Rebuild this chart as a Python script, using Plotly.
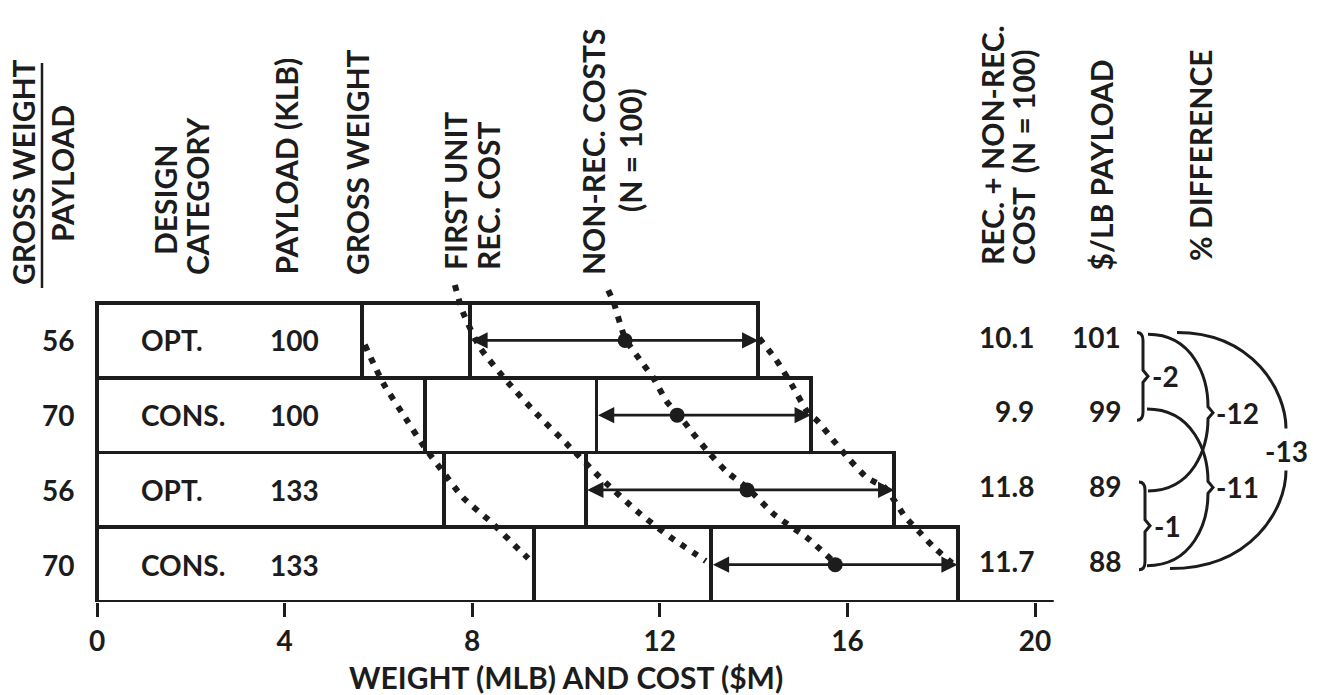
import plotly.graph_objects as go

# ---------------- data ----------------
gw_over_payload = [56, 70, 56, 70]
design_category = ["OPT.", "CONS.", "OPT.", "CONS."]
payload_klb = [100, 100, 133, 133]
gross_weight = [5.65, 7.0, 7.4, 9.32]          # MLB
first_unit_end = [7.95, 10.65, 10.42, 13.1]    # end of first-unit rec. cost segment
total_end = [14.1, 15.22, 17.0, 18.35]         # end of non-rec. cost segment
nonrec_mark = [11.26, 12.37, 13.86, 15.74]     # dot on the arrow
rec_nonrec_cost = ["10.1", "9.9", "11.8", "11.7"]
per_lb_payload = [101, 99, 89, 88]
pct_pairs = [(0, 1), (0, 2), (0, 3), (1, 3), (2, 3)]
x_ticks = [0, 4, 8, 12, 16, 20]
row_pos = [3.5, 2.5, 1.5, 0.5]

# dotted trend curves (x value, row-unit height)
gw_curve_x = [5.71, 6.10, 6.63, 6.95, 7.38, 7.80, 8.40, 9.00, 9.30]
gw_curve_y = [3.44, 2.93, 2.41, 2.10, 1.74, 1.40, 1.07, 0.70, 0.52]
fu_curve_x = [7.63, 7.80, 8.17, 8.76, 9.40, 10.04, 10.72, 11.56, 12.22, 12.98]
fu_curve_y = [4.24, 3.88, 3.40, 2.94, 2.50, 2.10, 1.67, 1.19, 0.87, 0.55]
nr_curve_x = [10.90, 11.02, 11.26, 11.66, 11.86, 12.15, 12.37, 12.69, 13.03, 13.43, 13.86, 14.46, 15.14, 15.74]
nr_curve_y = [4.17, 4.00, 3.53, 3.17, 3.00, 2.68, 2.53, 2.27, 2.01, 1.74, 1.53, 1.16, 0.86, 0.52]
tot_curve_x = [14.12, 14.48, 14.82, 15.16, 15.35, 15.69, 16.01, 16.42, 16.80, 17.23, 17.53, 17.83, 18.23]
tot_curve_y = [3.53, 3.24, 2.90, 2.53, 2.43, 2.17, 1.93, 1.66, 1.53, 1.14, 0.94, 0.74, 0.52]

# ---------------- layout helpers ----------------
W, H = 1323, 695
PX0, SX = 97.0, 46.9      # pixel of x=0, pixels per unit
PY0, SY = 602.0, 74.75    # pixel of y=0, pixels per row unit
INK = "#1c1c1c"
FONT = "Lato"


def dx(p):
    return (p - PX0) / SX


def dy(p):
    return (PY0 - p) / SY


def px(x):
    return PX0 + x * SX


def py(y):
    return PY0 - y * SY


fig = go.Figure()

# stacked boxes
segments = [
    gross_weight,
    [f - g for f, g in zip(first_unit_end, gross_weight)],
    [t - f for t, f in zip(total_end, first_unit_end)],
]
for seg in segments:
    fig.add_trace(go.Bar(
        y=row_pos, x=seg, orientation="h", width=1,
        marker=dict(color="white", line=dict(color=INK, width=3.8)),
        showlegend=False, hoverinfo="skip"))

# dotted curves
for cx, cy in [(gw_curve_x, gw_curve_y), (fu_curve_x, fu_curve_y),
               (nr_curve_x, nr_curve_y), (tot_curve_x, tot_curve_y)]:
    fig.add_trace(go.Scatter(
        x=cx, y=cy, mode="lines", cliponaxis=False,
        line=dict(color=INK, width=6, dash="6px,8px", shape="spline", smoothing=0.6),
        showlegend=False, hoverinfo="skip"))

# non-recurring cost dots
fig.add_trace(go.Scatter(
    x=nonrec_mark, y=row_pos, mode="markers",
    marker=dict(size=15, color=INK), showlegend=False, hoverinfo="skip"))

ann = []
shapes = []

# double arrows
for i in range(4):
    ann.append(dict(
        x=total_end[i], y=row_pos[i], ax=first_unit_end[i], ay=row_pos[i],
        xref="x", yref="y", axref="x", ayref="y", text="", showarrow=True,
        arrowhead=2, startarrowhead=2, arrowside="end+start",
        arrowsize=1.25, startarrowsize=1.25, arrowwidth=2.6, arrowcolor=INK))

# row texts
row_font = dict(family=FONT, size=28, color=INK, weight=700)
for i in range(4):
    y = row_pos[i]
    ann.append(dict(x=dx(58), y=y, text=str(gw_over_payload[i]), showarrow=False,
                    xanchor="center", yanchor="middle", font=row_font))
    ann.append(dict(x=dx(139), y=y, text=design_category[i], showarrow=False,
                    xanchor="left", yanchor="middle", font=row_font))
    ann.append(dict(x=dx(268), y=y, text=str(payload_klb[i]), showarrow=False,
                    xanchor="left", yanchor="middle", font=row_font))
    ann.append(dict(x=dx(1036), y=y + 0.05, text=rec_nonrec_cost[i], showarrow=False,
                    xanchor="right", yanchor="middle", font=row_font))
    ann.append(dict(x=dx(1123), y=y + 0.05, text=str(per_lb_payload[i]), showarrow=False,
                    xanchor="right", yanchor="middle", font=row_font))

# column headers (rotated)
hdr_font = dict(family=FONT, size=30, color=INK, weight=700)
headers = [
    ("GROSS WEIGHT", 23, 287, "bottom"),
    ("PAYLOAD", 62, 174, "middle"),
    ("DESIGN", 165, 200, "middle"),
    ("CATEGORY", 197, 196, "middle"),
    ("PAYLOAD (KLB)", 285, 277, "bottom"),
    ("GROSS WEIGHT", 357, 277, "bottom"),
    ("FIRST UNIT", 455, 272, "bottom"),
    ("REC. COST", 488, 272, "bottom"),
    ("NON-REC. COSTS", 593, 277, "bottom"),
    ("(N = 100)", 630, 150, "middle"),
    ("REC. + NON-REC.", 992, 267, "bottom"),
    ("COST  (N = 100)", 1023, 267, "bottom"),
    ("$/LB PAYLOAD", 1100, 273, "bottom"),
    ("% DIFFERENCE", 1200, 263, "bottom"),
]
for text, hx, hy, ya in headers:
    ann.append(dict(x=dx(hx), y=dy(hy), text=text, textangle=-90, showarrow=False,
                    xanchor="center", yanchor=ya, font=hdr_font))
# fraction bar between GROSS WEIGHT / PAYLOAD
shapes.append(dict(type="line", xref="x", yref="y", x0=dx(42), x1=dx(42),
                   y0=dy(288), y1=dy(63), line=dict(color=INK, width=2.5)))

# axis title (paper reference so it is drawn below the plot area)
ann.append(dict(x=10, xref="x", y=(PY0 - 677) / PY0, yref="paper",
                text="WEIGHT (MLB) AND COST ($M)", showarrow=False,
                xanchor="center", yanchor="middle",
                font=dict(family=FONT, size=30, color=INK, weight=700)))

# axis base line
shapes.append(dict(type="line", xref="x", yref="y", x0=0, x1=x_ticks[-1] + 0.4,
                   y0=0, y1=0, line=dict(color=INK, width=4)))


# brackets and arcs for % difference
def P(xp, yp):
    return f"{dx(xp):.4f},{dy(yp):.4f}"


pct = {(a, b): round((per_lb_payload[b] - per_lb_payload[a]) / per_lb_payload[a] * 100)
       for a, b in pct_pairs}
diff_font = dict(family=FONT, size=28, color=INK, weight=700)


def brace(a, b, x0):
    yt, yb = py(row_pos[a]) - 8, py(row_pos[b]) + 5
    ym = (yt + yb) / 2
    path = (f"M{P(x0, yt)} Q{P(x0 + 6, yt)} {P(x0 + 6, yt + 8)} L{P(x0 + 6, ym - 6)} "
            f"L{P(x0 + 11, ym)} L{P(x0 + 6, ym + 6)} L{P(x0 + 6, yb - 8)} "
            f"Q{P(x0 + 6, yb)} {P(x0, yb)}")
    shapes.append(dict(type="path", xref="x", yref="y", path=path,
                       line=dict(color=INK, width=3)))
    ann.append(dict(x=dx(x0 + 13), y=dy(ym), text=f"{pct[(a, b)]}", showarrow=False,
                    xanchor="left", yanchor="middle", font=diff_font))


def cusp_arc(a, b, xs, xc):
    yt, yb = py(row_pos[a]) - 6, py(row_pos[b]) + 1
    ym = (yt + yb) / 2
    r = xc - xs
    path = (f"M{P(xs, yt)} C{P(xs + 0.75 * r, yt)} {P(xc, ym - 0.45 * (ym - yt))} {P(xc, ym - 6)} "
            f"L{P(xc + 5, ym)} L{P(xc, ym + 6)} "
            f"C{P(xc, ym + 0.45 * (yb - ym))} {P(xs + 0.75 * r, yb)} {P(xs, yb)}")
    shapes.append(dict(type="path", xref="x", yref="y", path=path,
                       line=dict(color=INK, width=3)))
    ann.append(dict(x=dx(xc + 6), y=dy(ym), text=f"{pct[(a, b)]}", showarrow=False,
                    xanchor="left", yanchor="middle", font=diff_font))


def gap_arc(a, b, xs, xe, xc):
    yt, yb = py(row_pos[a]) - 8, py(row_pos[b]) + 4
    ym = (yt + yb) / 2
    r = xc - xs
    top = (f"M{P(xs, yt)} C{P(xs + 0.7 * r, yt)} {P(xc, ym - 0.5 * (ym - yt))} {P(xc, ym - 22)}")
    bot = (f"M{P(xc, ym + 20)} C{P(xc, ym + 0.5 * (yb - ym))} {P(xe + 0.7 * (xc - xe), yb)} {P(xe, yb)}")
    for pth in (top, bot):
        shapes.append(dict(type="path", xref="x", yref="y", path=pth,
                           line=dict(color=INK, width=3)))
    ann.append(dict(x=dx(xc), y=dy(ym), text=f"{pct[(a, b)]}", showarrow=False,
                    xanchor="center", yanchor="middle", font=diff_font))


brace(0, 1, 1137)
brace(2, 3, 1139)
cusp_arc(0, 2, 1148, 1208)
cusp_arc(1, 3, 1147, 1208)
gap_arc(0, 3, 1177, 1170, 1286)

fig.update_layout(
    width=W, height=H,
    margin=dict(l=0, r=0, t=0, b=H - PY0, pad=0),
    paper_bgcolor="white", plot_bgcolor="white",
    barmode="stack", showlegend=False,
    annotations=ann, shapes=shapes,
    xaxis=dict(range=[dx(0), dx(W)], tickvals=x_ticks, ticktext=[str(t) for t in x_ticks],
               ticks="outside", ticklen=14, tickwidth=3, tickcolor=INK,
               showgrid=False, zeroline=False, showline=False,
               tickfont=dict(family=FONT, size=28, color=INK, weight=700)),
    yaxis=dict(range=[0, dy(0)], visible=False, showgrid=False, zeroline=False),
)

fig.write_html("out.html", config={"displayModeBar": False},
               post_script="document.body.style.margin='0';")
